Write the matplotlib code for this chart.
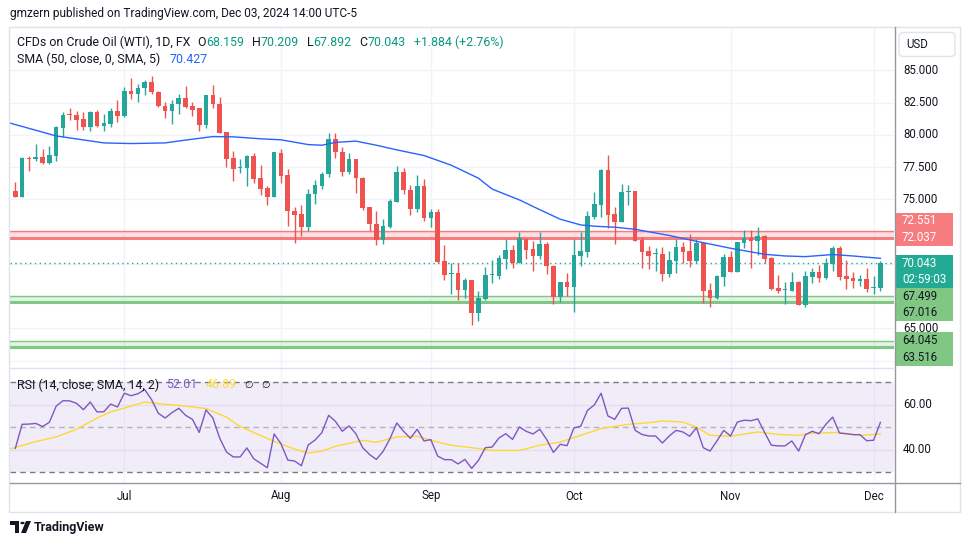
import matplotlib.pyplot as plt
from matplotlib.patches import Rectangle, Circle, Polygon, FancyBboxPatch
from matplotlib.lines import Line2D

plt.rcParams['font.family'] = ['Roboto', 'DejaVu Sans']

# daily candles, Jun 7 2024 .. Dec 3 2024 (bar index 0..127)
opens = [75.66, 75.22, 78.22, 78.14, 78.30, 77.86, 78.40, 80.55, 81.59, 81.56,
         81.25, 80.58, 81.79, 80.71, 80.86, 81.87, 81.43, 83.42, 83.14, 83.60,
         84.12, 83.35, 82.26, 81.82, 82.36, 82.88, 82.26, 82.05, 80.78, 83.11,
         82.41, 80.24, 78.20, 77.45, 77.47, 78.38, 76.67, 75.89, 75.22, 78.61,
         76.90, 74.11, 73.87, 72.89, 75.38, 76.07, 76.93, 79.70, 78.69, 77.16,
         78.14, 76.67, 74.42, 73.10, 71.88, 72.89, 74.83, 77.13, 75.74, 74.26,
         76.05, 73.59, 74.03, 70.23, 69.20, 69.29, 68.00, 68.75, 66.21, 67.30,
         69.16, 69.09, 70.41, 71.08, 70.10, 71.96, 71.16, 70.64, 71.55, 69.84,
         67.40, 68.59, 68.23, 70.61, 70.95, 73.67, 74.57, 77.27, 73.87, 73.25,
         75.58, 75.66, 71.86, 71.00, 70.75, 70.79, 69.24, 70.23, 71.31, 71.00,
         70.23, 71.62, 67.97, 67.38, 69.01, 70.54, 69.40, 71.65, 72.04, 71.80,
         72.17, 70.46, 68.13, 67.99, 67.92, 68.60, 66.81, 69.01, 69.37, 68.91,
         69.99, 71.23, 69.06, 68.91, 68.70, 68.83, 68.13, 68.159]
highs = [76.31, 78.30, 78.40, 79.31, 78.89, 79.15, 80.71, 81.74, 82.05, 81.82,
         81.79, 81.82, 81.90, 81.64, 82.08, 82.72, 83.68, 84.43, 83.97, 84.23,
         84.59, 83.37, 82.52, 82.72, 83.19, 83.81, 82.57, 82.07, 83.11, 83.89,
         82.96, 80.26, 78.77, 78.17, 78.48, 78.61, 77.70, 76.07, 78.69, 78.92,
         77.34, 74.39, 74.57, 75.79, 76.49, 77.11, 80.16, 80.16, 79.10, 78.61,
         78.16, 76.72, 74.44, 74.11, 73.49, 75.01, 77.60, 77.42, 76.15, 76.90,
         76.59, 74.26, 74.24, 71.47, 70.04, 70.07, 68.93, 68.77, 67.92, 69.76,
         70.30, 70.69, 71.96, 71.44, 72.50, 72.01, 71.80, 72.48, 71.70, 69.89,
         68.61, 69.27, 71.93, 72.45, 74.11, 75.56, 77.34, 78.46, 74.42, 76.23,
         76.10, 75.68, 72.09, 71.39, 71.26, 71.29, 71.00, 71.96, 71.70, 72.32,
         71.93, 71.65, 68.49, 69.14, 70.77, 70.98, 71.73, 72.63, 72.63, 72.87,
         72.24, 70.51, 69.11, 68.62, 69.37, 68.67, 69.42, 69.71, 69.89, 70.49,
         71.42, 71.39, 70.28, 69.37, 69.11, 69.66, 69.06, 70.209]
lows = [75.20, 75.20, 77.21, 77.94, 77.73, 77.78, 77.99, 79.85, 81.15, 80.40,
        80.40, 80.27, 80.58, 80.27, 80.58, 81.04, 81.40, 82.75, 82.52, 83.06,
        83.17, 82.13, 81.28, 80.86, 81.64, 82.08, 81.48, 80.27, 80.53, 82.05,
        80.11, 77.55, 76.46, 77.03, 76.07, 76.26, 75.37, 74.60, 75.20, 76.26,
        72.97, 71.65, 72.19, 72.58, 74.62, 75.84, 76.77, 78.20, 76.85, 76.95,
        75.53, 74.21, 72.55, 71.49, 71.57, 72.81, 74.81, 75.45, 73.80, 74.03,
        73.33, 72.89, 70.04, 68.77, 67.64, 67.22, 67.33, 65.23, 65.59, 67.20,
        68.49, 68.83, 69.60, 69.71, 70.08, 70.38, 69.47, 70.38, 69.24, 66.91,
        67.07, 67.53, 66.29, 69.86, 70.56, 73.51, 73.67, 72.76, 71.55, 73.23,
        74.55, 71.78, 69.71, 69.60, 69.45, 68.70, 69.01, 69.32, 70.09, 69.79,
        70.04, 66.94, 66.68, 67.30, 68.31, 69.40, 69.38, 71.21, 69.71, 70.69,
        70.04, 67.95, 67.71, 66.91, 67.90, 66.81, 66.63, 68.54, 68.62, 68.83,
        69.45, 68.75, 68.03, 68.15, 68.28, 67.84, 67.69, 67.892]
closes = [75.22, 78.22, 78.14, 78.30, 77.86, 78.45, 80.63, 81.56, 81.51, 81.17,
          80.58, 81.79, 80.71, 80.94, 81.87, 81.43, 83.42, 83.14, 83.66, 84.12,
          83.29, 82.21, 81.82, 82.41, 82.88, 82.18, 81.97, 80.78, 83.11, 82.36,
          80.16, 78.17, 77.39, 77.52, 78.38, 76.59, 75.84, 75.22, 78.64, 76.85,
          74.06, 73.82, 72.89, 75.43, 76.12, 76.98, 79.70, 78.64, 77.16, 78.14,
          76.62, 74.34, 73.07, 71.88, 72.92, 74.88, 77.13, 75.69, 74.26, 76.05,
          73.59, 74.03, 70.15, 69.16, 69.26, 68.00, 68.75, 66.21, 67.35, 69.14,
          69.21, 70.46, 71.08, 70.10, 72.01, 71.11, 70.64, 71.55, 69.81, 67.40,
          68.59, 68.23, 70.69, 71.00, 73.72, 74.65, 77.27, 73.82, 73.25, 75.58,
          75.66, 71.80, 70.92, 70.61, 70.79, 69.24, 70.30, 71.31, 70.92, 70.23,
          71.62, 67.92, 67.38, 69.06, 70.54, 69.40, 71.73, 72.04, 71.80, 72.17,
          70.38, 68.05, 67.90, 68.05, 68.60, 66.81, 69.06, 69.37, 68.91, 70.07,
          71.23, 69.01, 68.83, 68.67, 68.83, 68.08, 68.16, 70.043]

# SMA(50) overlay, read at bar positions
sma_idx = [-1, 6, 13, 17, 22, 25, 29, 32, 36, 39, 43, 45, 47, 50, 53, 56, 60, 64,
           68, 70, 74, 77, 80, 83, 85, 88, 91, 96, 100, 105, 110, 113, 116, 120, 123, 127]
sma_val = [80.95, 79.92, 79.38, 79.33, 79.38, 79.60, 79.87, 79.85, 79.70, 79.62,
           79.25, 79.20, 79.42, 79.52, 79.20, 78.84, 78.40, 77.65, 76.64, 75.80,
           74.96, 74.20, 73.46, 73.02, 72.92, 72.84, 72.68, 72.20, 71.75, 71.21,
           70.74, 70.61, 70.56, 70.72, 70.61, 70.427]

rsi = [40.5, 51.2, 51.3, 51.6, 50.2, 52.1, 59.3, 61.7, 61.6, 60.5,
       57.7, 61.1, 56.7, 56.8, 60.2, 58.9, 65.0, 63.9, 64.8, 66.6,
       62.2, 56.1, 54.0, 56.4, 58.3, 55.2, 53.4, 47.6, 57.6, 54.0,
       45.1, 38.9, 36.7, 36.7, 40.7, 35.9, 33.9, 31.9, 46.9, 42.6,
       35.3, 34.9, 32.8, 42.0, 44.2, 47.5, 55.2, 52.5, 48.1, 50.5,
       47.0, 40.8, 37.8, 35.6, 39.2, 44.8, 51.8, 48.1, 45.0, 49.0,
       43.8, 44.4, 37.1, 35.5, 35.5, 33.6, 35.6, 31.6, 35.2, 40.8,
       41.1, 45.1, 47.0, 44.5, 50.0, 48.1, 46.9, 49.0, 44.5, 38.7,
       42.3, 41.7, 49.6, 50.3, 57.4, 59.8, 65.0, 54.9, 53.4, 58.3,
       58.4, 48.5, 46.7, 46.0, 46.0, 42.9, 46.0, 48.5, 47.8, 45.9,
       49.7, 40.8, 39.3, 43.8, 48.5, 46.0, 52.2, 53.0, 52.8, 53.6,
       47.6, 41.9, 41.6, 41.6, 43.8, 39.3, 46.6, 48.1, 47.0, 51.2,
       54.4, 47.3, 47.0, 46.6, 46.6, 43.9, 44.1, 52.01]
rsi_ma_idx = [-1, 3, 6, 9, 12, 14, 16, 19, 22, 25, 28, 31, 33, 38, 41, 43, 45, 47,
              51, 53, 56, 59, 61, 64, 67, 70, 74, 77, 80, 83, 86, 90, 93, 95, 98,
              100, 102, 105, 109, 112, 115, 117, 121, 124, 127]
rsi_ma_val = [40.1, 43.5, 45.6, 49.0, 54.0, 56.7, 58.4, 61.1, 60.1, 59.3, 58.2,
              54.4, 50.2, 43.6, 40.2, 38.4, 39.3, 41.4, 44.1, 43.2, 45.6, 45.9,
              44.1, 41.9, 40.8, 39.6, 39.6, 41.9, 43.3, 46.3, 49.3, 51.2, 51.9,
              52.7, 52.2, 50.0, 46.3, 45.9, 47.8, 46.7, 46.3, 47.3, 47.6, 46.3, 46.89]

month_labels = ['Jul', 'Aug', 'Sep', 'Oct', 'Nov', 'Dec']
month_idx = [16, 39, 61, 82, 105, 126]

grid_prices = [85.0, 82.5, 80.0, 77.5, 75.0, 72.5, 70.0, 67.5, 65.0, 62.5]
shown_prices = [85.0, 82.5, 80.0, 77.5, 75.0, 65.0]

resist_zone = (72.037, 72.551)
support_zones = [(67.016, 67.499), (63.516, 64.045)]
last_price = 70.043
countdown = '02:59:03'

UP, DN = '#26A69A', '#EF5350'
TXT = '#131722'
GRID = '#F0F3FA'

W, H = 970, 545
fig = plt.figure(figsize=(W / 100, H / 100), dpi=100)
fig.patch.set_facecolor('white')


def fx(x):
    return x / W


def fy(y):
    return 1 - y / H


ax = fig.add_axes([fx(10), fy(367.5), 884 / W, (367.5 - 27) / H])
rx = fig.add_axes([fx(10), fy(482), 884 / W, (482 - 369) / H])
for a in (ax, rx):
    a.set_xlim(-0.78, 129.0)
    a.set_xticks([])
    a.set_yticks([])
    for s in a.spines.values():
        s.set_visible(False)
    for m in month_idx:
        a.axvline(m, color=GRID, lw=1, zorder=0)
ax.set_ylim(61.96, 88.37)
rx.set_ylim(25.56, 75.78)

# ---- main pane
for p in grid_prices:
    ax.axhline(p, color=GRID, lw=1, zorder=0)

lo, hi = resist_zone
ax.axhspan(lo, hi, color='#F77C80', alpha=0.22, lw=0, zorder=1)
ax.axhline(hi, color='#F77C80', lw=1, zorder=1)
ax.axhline(lo, color='#F77C80', lw=2.2, zorder=1)
for lo, hi in support_zones:
    ax.axhspan(lo, hi, color='#81C784', alpha=0.22, lw=0, zorder=1)
    ax.axhline(hi, color='#81C784', lw=1, zorder=1)
    ax.axhline(lo, color='#81C784', lw=2.2, zorder=1)

ax.axhline(last_price, color='#22AB94', lw=1, ls=(0, (1, 2.5)), zorder=2)

n = len(closes)
xs = list(range(n))
cols = [UP if c >= o else DN for o, c in zip(opens, closes)]
ax.vlines(xs, lows, highs, colors=cols, lw=1, zorder=3)
bottoms = [min(o, c) for o, c in zip(opens, closes)]
heights = [max(abs(c - o), 0.08) for o, c in zip(opens, closes)]
ax.bar(xs, heights, bottom=bottoms, width=0.68, color=cols, lw=0, zorder=4)

ax.plot(sma_idx, sma_val, color='#2962FF', lw=1, zorder=5)

# ---- RSI pane
rx.axhspan(30, 70, color='#7E57C2', alpha=0.1, lw=0, zorder=0)
for lv in (60, 40):
    rx.axhline(lv, color='#E2DDF0', lw=1, zorder=1)
rx.axhline(70, color='#787B86', lw=1, ls=(0, (4, 3)), zorder=2)
rx.axhline(50, color='#787B86', lw=1, ls=(0, (4, 3)), alpha=0.5, zorder=2)
rx.axhline(30, color='#787B86', lw=1, ls=(0, (4, 3)), zorder=2)
rx.plot(rsi_ma_idx, rsi_ma_val, color='#FDD835', lw=1, zorder=3)
rx.plot(xs, rsi, color='#7E57C2', lw=1, zorder=4)


def py(a, v):
    # figure pixel row (from top) of a data value
    return H - a.transData.transform((0, v))[1]


def pxx(a, i):
    return a.transData.transform((i, 0))[0]


# ---- frame / axis lines
fig.add_artist(Rectangle((fx(9.5), fy(512)), 951 / W, (512 - 27) / H,
                         transform=fig.transFigure, fill=False,
                         ec='#E0E3EB', lw=1))
fig.add_artist(Line2D([fx(894.5), fx(894.5)], [fy(27), fy(512)], color='#9598A1', lw=1))
fig.add_artist(Line2D([fx(10), fx(960)], [fy(482.5), fy(482.5)], color='#9598A1', lw=1))
fig.add_artist(Line2D([fx(10), fx(894)], [fy(368.3), fy(368.3)], color='#E0E3EB', lw=1))

FS = 8.3
LFS = 8.9
for p in shown_prices:
    fig.text(fx(903), fy(py(ax, p)), f'{p:.3f}', fontsize=FS, color=TXT,
             va='center', ha='left')
for lv in (60, 40):
    fig.text(fx(903), fy(py(rx, lv)), f'{lv:.2f}', fontsize=FS, color=TXT,
             va='center', ha='left')
for lab, m in zip(month_labels, month_idx):
    fig.text(pxx(rx, m) / W, fy(496), lab, fontsize=FS, color=TXT,
             va='center', ha='center')

# price-axis tags
ROW = 16.6


def tag(anchor, first_row, lines, face, tc):
    y0 = py(ax, anchor) - first_row * ROW
    top = y0 - ROW / 2
    bot = y0 + ROW * (len(lines) - 0.5)
    fig.add_artist(Rectangle((fx(895.5), fy(bot)), 57.5 / W, (bot - top) / H,
                             transform=fig.transFigure, color=face, lw=0))
    for k, s in enumerate(lines):
        fig.text(fx(902), fy(y0 + k * ROW), s, fontsize=FS, color=tc,
                 va='center', ha='left')


tag(resist_zone[0], 1, [f'{resist_zone[1]:.3f}', f'{resist_zone[0]:.3f}'], '#F77C80', 'white')
tag(last_price, 0, [f'{last_price:.3f}', countdown], '#22AB94', 'white')
tag(support_zones[0][1], 0, [f'{support_zones[0][1]:.3f}', f'{support_zones[0][0]:.3f}'], '#81C784', TXT)
tag(support_zones[1][1], 0, [f'{support_zones[1][1]:.3f}', f'{support_zones[1][0]:.3f}'], '#81C784', TXT)

# USD button
fig.add_artist(FancyBboxPatch((fx(899), fy(56.5)), 56 / W, 24 / H,
                              boxstyle='round,pad=0,rounding_size=0.006',
                              transform=fig.transFigure, fc='white',
                              ec='#E0E3EB', lw=1))
fig.text(fx(906), fy(44.5), 'USD', fontsize=FS, color=TXT, va='center', ha='left')

# legends
rend = fig.canvas.get_renderer()


def row(x, y, parts, size=LFS):
    for part in parts:
        s, c, gap = part[:3]
        fs = part[3] if len(part) > 3 else size
        t = fig.text(fx(x), fy(y), s, fontsize=fs, color=c, va='center', ha='left')
        x += t.get_window_extent(renderer=rend).width + gap


TEAL = '#089981'
row(10, 14, [('gmzern published on TradingView.com, Dec 03, 2024 14:00 UTC-5', TXT, 0)], size=8.6)
row(17, 42, [('CFDs on Crude Oil (WTI), 1D, FX', TXT, 7),
             ('O', TXT, 0), (f'{opens[-1]:.3f}', TEAL, 8),
             ('H', TXT, 0), (f'{highs[-1]:.3f}', TEAL, 8),
             ('L', TXT, 0), (f'{lows[-1]:.3f}', TEAL, 8),
             ('C', TXT, 0), (f'{closes[-1]:.3f}', TEAL, 8),
             ('+1.884 (+2.76%)', TEAL, 0)])
row(17, 59, [('SMA (50, close, 0, SMA, 5)', TXT, 9), (f'{sma_val[-1]:.3f}', '#2962FF', 0)])
row(17, 385, [('RSI (14, close, SMA, 14, 2)', TXT, 7), (f'{rsi[-1]:.2f}', '#7E57C2', 8),
              (f'{rsi_ma_val[-1]:.2f}', '#FDD835', 8), ('\u2205', TXT, 8, 7), ('\u2205', TXT, 0, 7)])

# TradingView logo
fig.add_artist(Polygon([(fx(10), fy(521)), (fx(19), fy(521)), (fx(19), fy(533)),
                        (fx(15), fy(533)), (fx(15), fy(525)), (fx(10), fy(525))],
                       closed=True, transform=fig.transFigure, color=TXT, lw=0))
fig.add_artist(Circle((fx(22.5), fy(523)), 2.2 / W, transform=fig.transFigure, color=TXT, lw=0))
fig.add_artist(Polygon([(fx(26), fy(521)), (fx(31), fy(521)), (fx(26), fy(533)),
                        (fx(21), fy(533))],
                       closed=True, transform=fig.transFigure, color=TXT, lw=0))
fig.text(fx(34), fy(527), 'TradingView', fontsize=9.0, fontweight='bold', color=TXT,
         va='center', ha='left')

fig.savefig('out.png', dpi=100)
